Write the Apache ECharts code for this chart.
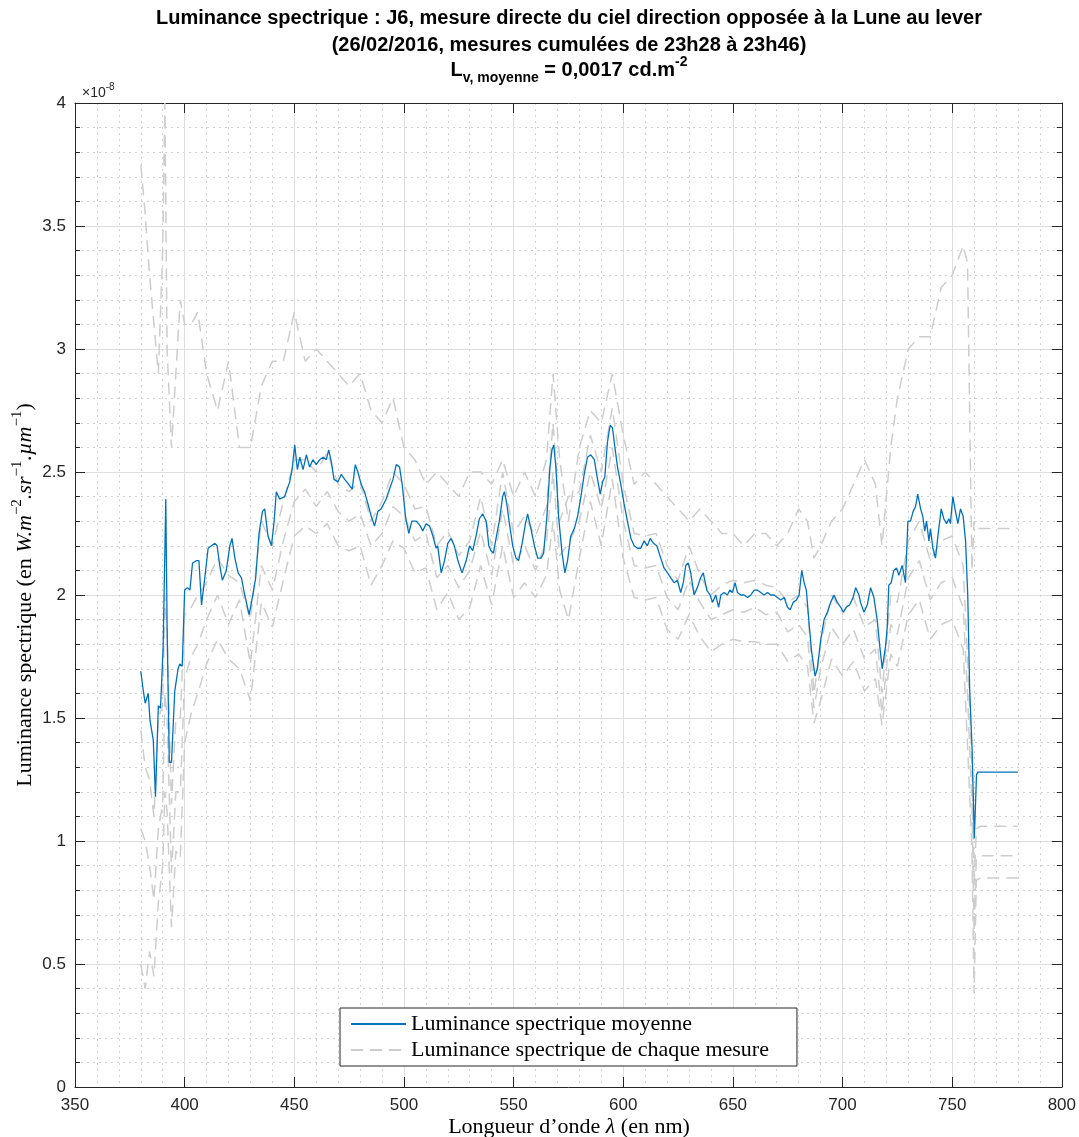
<!DOCTYPE html>
<html><head><meta charset="utf-8">
<script src="https://cdn.jsdelivr.net/npm/echarts@6/dist/echarts.min.js"></script>
<style>html,body{margin:0;padding:0;background:#fff}#c{width:1079px;height:1137px}</style>
</head><body><div id="c"></div>
<script>
// Mean spectrum [wavelength nm, luminance x1e-8]
const meanSpectrum = [[380,1.69],[381,1.62],[382,1.56],[383.4,1.60],[384.2,1.49],[385.7,1.41],[386.7,1.18],[388,1.55],[389,1.54],[390.2,1.79],[391.4,2.39],[392,1.87],[393,1.32],[394,1.32],[395.5,1.61],[397,1.70],[397.8,1.72],[398.9,1.71],[400,2.02],[401.2,2.03],[402.4,2.02],[403.6,2.13],[405.4,2.14],[406.5,2.14],[407.7,1.96],[409.2,2.07],[410.7,2.19],[412.2,2.20],[413.8,2.21],[414.8,2.20],[416,2.12],[417.2,2.06],[419,2.10],[420.6,2.20],[421.6,2.23],[422.9,2.15],[424.4,2.09],[425.9,2.07],[427.4,2.00],[429.4,1.92],[430.9,1.99],[432.4,2.07],[433.9,2.25],[435.5,2.34],[436.5,2.35],[438,2.24],[439.6,2.20],[440.8,2.30],[441.8,2.42],[443.3,2.39],[445.6,2.40],[447.9,2.46],[449,2.51],[450.2,2.61],[451.4,2.51],[452.5,2.56],[454,2.51],[455.5,2.57],[457,2.52],[458.5,2.55],[460,2.53],[461.6,2.55],[463.1,2.56],[464.6,2.55],[465.7,2.59],[466.9,2.54],[468.1,2.47],[469.9,2.46],[471.4,2.49],[473,2.47],[474.8,2.45],[476.4,2.43],[477.8,2.53],[479,2.50],[480.5,2.45],[482,2.42],[483.6,2.37],[485.1,2.32],[486.6,2.28],[488.1,2.34],[489.6,2.35],[491.9,2.39],[493.4,2.43],[495,2.47],[496.5,2.53],[498,2.52],[499.2,2.45],[500.7,2.32],[502.2,2.25],[503.6,2.30],[505.6,2.30],[507.5,2.28],[508.6,2.26],[510.1,2.29],[511.7,2.28],[513.2,2.24],[514.7,2.19],[515.4,2.20],[517,2.09],[518.5,2.14],[520,2.21],[521.5,2.23],[523,2.20],[524.6,2.14],[526.5,2.09],[528.4,2.14],[529.9,2.20],[531.4,2.18],[532.9,2.24],[534.4,2.31],[535.9,2.33],[537.5,2.30],[538.7,2.20],[539.7,2.18],[540.8,2.17],[542,2.23],[543.5,2.30],[545,2.40],[545.8,2.42],[546.9,2.37],[548.1,2.29],[549.6,2.20],[551.1,2.15],[552.3,2.14],[553.9,2.21],[555.4,2.29],[556.4,2.33],[557.9,2.27],[559.5,2.20],[561,2.15],[562.5,2.15],[563.7,2.17],[565.2,2.32],[566.6,2.52],[567.5,2.59],[568.3,2.61],[569.3,2.52],[570.5,2.32],[572.1,2.17],[573.4,2.09],[574.6,2.14],[576.1,2.24],[577.7,2.27],[579.2,2.32],[580.7,2.40],[582.2,2.49],[583.7,2.56],[585.2,2.57],[586.8,2.55],[588.3,2.47],[589.5,2.41],[590.6,2.46],[591.6,2.48],[592.8,2.62],[594,2.69],[595.1,2.68],[596.2,2.60],[597.4,2.52],[598.9,2.45],[600.4,2.37],[601.9,2.30],[603.5,2.23],[605,2.20],[606.5,2.19],[608,2.19],[609.5,2.22],[611,2.20],[612.3,2.23],[613.8,2.21],[615.3,2.20],[617.1,2.15],[618.6,2.11],[620.2,2.09],[621.7,2.07],[623.2,2.05],[624.7,2.06],[626.2,2.01],[627.4,2.05],[628.5,2.12],[629.6,2.13],[630.8,2.09],[632.3,2.00],[633.8,2.03],[635.3,2.07],[636.5,2.09],[638.1,2.02],[639.6,2.00],[640.7,1.97],[642.2,2.00],[643.5,1.95],[644.5,2.00],[646,2.01],[647.5,2.00],[648.6,2.02],[649.8,2.01],[651,2.05],[652.1,2.01],[653.6,2.00],[655.1,2.00],[656.7,1.99],[658.2,2.00],[659.7,2.02],[661.2,2.02],[662.7,2.01],[664.2,2.00],[665.8,2.01],[667.3,2.00],[668.8,2.00],[670.3,1.99],[671.8,1.98],[673.4,1.99],[674.9,1.95],[676.1,1.94],[677.5,1.97],[679,1.98],[680.2,2.00],[681.4,2.10],[682.5,2.05],[683.5,2.02],[684.7,1.89],[685.9,1.77],[687.5,1.67],[688.5,1.70],[690.1,1.82],[691.6,1.90],[693.1,1.93],[694.6,1.97],[696.1,2.00],[697.6,1.97],[699.2,1.95],[700.4,1.93],[701.7,1.95],[703.3,1.96],[704.8,1.99],[706,2.03],[707.5,2.00],[708.2,1.97],[709.8,1.93],[711.3,1.96],[712.8,2.03],[714.3,1.99],[715.8,1.90],[717,1.79],[718.1,1.70],[719.6,1.79],[720.4,1.87],[721.1,2.04],[722.2,2.05],[723.4,2.10],[724.6,2.11],[725.7,2.08],[727.2,2.12],[728.7,2.05],[729.8,2.30],[731,2.30],[732.2,2.34],[733.3,2.36],[734.3,2.41],[735.6,2.35],[736.6,2.32],[737.5,2.26],[738.3,2.30],[739.4,2.22],[740.1,2.27],[741.2,2.19],[742.4,2.15],[743.5,2.24],[745,2.35],[746.2,2.31],[747.4,2.29],[748.5,2.31],[749.2,2.29],[750.3,2.40],[751.5,2.34],[752.6,2.29],[753.8,2.35],[755,2.32],[756.1,2.22],[757.1,2.00],[758,1.61],[759.1,1.37],[760.1,1.01],[761.1,1.27],[761.7,1.28],[780,1.28]];

// Individual measurements (shared wavelengths)
const measureWl = [380,382,384,386,388,390,391,392,394,396,
  398,400,403,406,410,415,420,425,430,435,
  440,445,450,455,460,465,470,475,480,485,
  490,495,500,505,510,515,520,525,530,535,
  540,545,550,555,560,565,568,571,575,580,
  585,590,595,600,605,610,615,620,625,630,
  635,640,645,650,655,660,665,670,675,680,
  684,687,690,695,700,705,710,715,718,722,
  725,730,735,740,745,750,755,757,759,760,
  761,763,770,780];
const measureA = [3.75,3.55,3.3,3.1,2.9,3.4,4.0,3.0,2.6,2.9,
  3.2,3.1,3.1,3.15,2.9,2.75,2.95,2.6,2.6,2.85,
  2.95,2.95,3.15,2.95,3.0,2.95,2.9,2.85,2.9,2.75,
  2.7,2.8,2.6,2.55,2.45,2.5,2.45,2.4,2.5,2.5,
  2.45,2.55,2.4,2.5,2.4,2.55,2.9,2.55,2.3,2.6,
  2.75,2.7,2.9,2.65,2.45,2.5,2.45,2.4,2.35,2.3,
  2.35,2.3,2.25,2.25,2.2,2.25,2.25,2.2,2.25,2.35,
  2.3,2.15,2.2,2.3,2.35,2.45,2.55,2.45,2.2,2.6,
  2.8,3.0,3.05,3.05,3.25,3.3,3.42,3.35,2.1,2.3,
  2.27,2.27,2.27,2.27];
const measureB = [1.45,1.3,1.25,1.1,1.5,1.55,2.0,1.85,1.15,1.5,
  1.5,1.92,1.95,2.0,2.05,2.15,2.08,2.05,1.9,2.3,
  2.2,2.38,2.55,2.55,2.5,2.58,2.45,2.42,2.46,2.3,
  2.38,2.5,2.45,2.35,2.36,2.2,2.26,2.16,2.22,2.4,
  2.2,2.5,2.25,2.32,2.24,2.36,2.7,2.3,2.4,2.42,
  2.65,2.5,2.76,2.45,2.25,2.24,2.25,2.12,2.06,2.2,
  2.08,2.0,2.04,2.06,2.05,2.06,2.04,2.03,1.97,2.0,
  1.95,1.6,1.8,2.0,1.93,1.99,1.87,1.9,1.6,2.0,
  1.97,2.22,2.3,2.14,2.22,2.24,2.12,1.75,1.3,0.82,
  1.05,1.06,1.06,1.06];
const measureC = [1.05,1.0,0.9,0.76,1.05,1.15,1.6,1.5,0.87,1.2,
  1.2,1.66,1.75,1.8,1.9,2.0,1.88,1.98,1.72,2.12,
  2.02,2.22,2.38,2.43,2.36,2.42,2.34,2.3,2.33,2.2,
  2.25,2.36,2.32,2.22,2.25,2.07,2.12,2.03,2.1,2.26,
  2.08,2.35,2.12,2.2,2.1,2.22,2.5,2.16,2.21,2.3,
  2.5,2.35,2.6,2.3,2.12,2.11,2.12,1.99,1.94,2.06,
  1.97,1.9,1.92,1.94,1.93,1.95,1.92,1.93,1.85,1.88,
  1.83,1.54,1.7,1.87,1.8,1.86,1.74,1.78,1.52,1.88,
  1.84,2.07,2.14,1.98,2.05,2.07,1.95,1.6,1.15,0.63,
  0.93,0.94,0.94,0.94];
const measureD = [0.5,0.4,0.55,0.45,0.75,0.9,1.2,1.12,0.65,0.96,
  0.93,1.4,1.52,1.6,1.72,1.82,1.74,1.7,1.57,1.97,
  1.87,2.06,2.24,2.28,2.25,2.29,2.2,2.18,2.2,2.04,
  2.12,2.22,2.19,2.09,2.11,1.94,2.01,1.9,1.95,2.12,
  1.96,2.2,1.99,2.05,1.99,2.08,2.3,2.02,1.9,2.15,
  2.38,2.2,2.47,2.15,1.99,1.98,1.99,1.86,1.82,1.92,
  1.83,1.77,1.8,1.82,1.81,1.81,1.8,1.8,1.73,1.76,
  1.71,1.48,1.57,1.74,1.67,1.73,1.61,1.66,1.47,1.76,
  1.71,1.92,1.98,1.82,1.88,1.9,1.78,1.39,0.97,0.38,
  0.84,0.85,0.85,0.85];

const seriesNames = ['Luminance spectrique moyenne', 'Luminance spectrique de chaque mesure'];
const titleLines = ['Luminance spectrique : J6, mesure directe du ciel direction opposée à la Lune au lever',
  '(26/02/2016, mesures cumulées de 23h28 à 23h46)'];

const SANS = '"Liberation Sans", Arial, sans-serif';
const SERIF = '"Liberation Serif", "Times New Roman", serif';
const AX = '#262626';

const mctx = document.createElement('canvas').getContext('2d');
function textGroup(parts, cx, cy, rotation, align) {
  let total = 0;
  const ws = parts.map(p => { mctx.font = p.font; const w = mctx.measureText(p.t).width; total += w; return w; });
  let x = align === 'left' ? 0 : -total / 2;
  const children = parts.map((p, i) => {
    const el = { type: 'text', x: x, y: p.dy || 0, silent: true,
      style: { text: p.t, font: p.font, fill: p.fill || '#000', textAlign: 'left', textVerticalAlign: 'middle', verticalAlign: 'middle' } };
    x += ws[i];
    return el;
  });
  return { type: 'group', x: cx, y: cy, rotation: rotation || 0, children: children };
}

const chart = echarts.init(document.getElementById('c'), null, { renderer: 'canvas' });
const grayStyle = { color: '#cdcdcd', width: 1.5, type: [12, 7] };
const grayData = [measureA, measureB, measureC, measureD].map(arr => measureWl.map((w, i) => [w, arr[i]]));

const xCommon = { type: 'value', min: 350, max: 800, interval: 50 };
const yCommon = { type: 'value', min: 0, max: 4, interval: 0.5 };

const bT = 'bold 20px ' + SANS, bS = 'bold 14px ' + SANS;
const ser = '22px ' + SERIF, serI = 'italic 22px ' + SERIF, serS = '15px ' + SERIF;

chart.setOption({
  animation: false,
  backgroundColor: '#fff',
  grid: { left: 75, right: 16, top: 103, bottom: 50, containLabel: false },
  legend: {
    data: seriesNames, orient: 'vertical', left: 340, top: 1008,
    backgroundColor: '#fff', borderColor: AX, borderWidth: 1, borderRadius: 0,
    padding: [5, 28, 5, 10], itemWidth: 55, itemHeight: 14, itemGap: 4,
    itemStyle: { opacity: 0, borderWidth: 0 },
    textStyle: { fontFamily: SERIF, fontSize: 22, color: '#000', lineHeight: 22 }
  },
  xAxis: [
    Object.assign({}, xCommon, {
      position: 'bottom',
      axisLine: { show: true, onZero: false, lineStyle: { color: AX, width: 1 } },
      axisTick: { show: true, inside: true, length: 10, lineStyle: { color: AX } },
      minorTick: { show: false, splitNumber: 5 },
      axisLabel: { fontFamily: SANS, fontSize: 17, color: AX, margin: 10 },
      splitLine: { show: true, lineStyle: { color: '#dedede', width: 1 } },
      minorSplitLine: { show: true, lineStyle: { color: '#d2d2d2', width: 1, type: [2, 4] } }
    }),
    Object.assign({}, xCommon, {
      position: 'top',
      axisLine: { show: true, onZero: false, lineStyle: { color: AX, width: 1 } },
      axisTick: { show: true, inside: true, length: 10, lineStyle: { color: AX } },
      axisLabel: { show: false }, splitLine: { show: false }
    })
  ],
  yAxis: [
    Object.assign({}, yCommon, {
      position: 'left',
      axisLine: { show: true, onZero: false, lineStyle: { color: AX, width: 1 } },
      axisTick: { show: true, inside: true, length: 10, lineStyle: { color: AX } },
      minorTick: { show: true, splitNumber: 5, length: 5, lineStyle: { color: AX } },
      axisLabel: { fontFamily: SANS, fontSize: 17, color: AX, margin: 9 },
      splitLine: { show: true, lineStyle: { color: '#dedede', width: 1 } },
      minorSplitLine: { show: true, lineStyle: { color: '#d2d2d2', width: 1, type: [2, 4] } }
    }),
    Object.assign({}, yCommon, {
      position: 'right',
      axisLine: { show: true, onZero: false, lineStyle: { color: AX, width: 1 } },
      axisTick: { show: true, inside: true, length: 10, lineStyle: { color: AX } },
      minorTick: { show: true, splitNumber: 5, length: 5, lineStyle: { color: AX } },
      axisLabel: { show: false }, splitLine: { show: false }
    })
  ],
  series: grayData.map(d => ({
    name: seriesNames[1], type: 'line', data: d, symbol: 'none', z: 2,
    lineStyle: grayStyle, itemStyle: { color: '#cdcdcd' }
  })).concat([{
    name: seriesNames[0], type: 'line', data: meanSpectrum, symbol: 'none', z: 3,
    lineStyle: { color: '#0072BD', width: 1.3 }, itemStyle: { color: '#0072BD' }
  }]),
  graphic: [
    textGroup([{ t: titleLines[0], font: bT }], 569, 18),
    textGroup([{ t: titleLines[1], font: bT }], 569, 45),
    textGroup([{ t: 'L', font: bT }, { t: 'v, moyenne', font: bS, dy: 8 }, { t: ' = 0,0017 cd.m', font: bT }, { t: '-2', font: bS, dy: -8 }], 569, 70),
    textGroup([{ t: '×10', font: '14px ' + SANS, fill: AX }, { t: '-8', font: '10px ' + SANS, dy: -6, fill: AX }], 82, 93, 0, 'left'),
    textGroup([{ t: 'Longueur d\u2019onde ', font: ser }, { t: 'λ', font: serI }, { t: ' (en nm)', font: ser }], 569, 1127),
    textGroup([{ t: 'Luminance spectrique (en ', font: ser }, { t: 'W.m', font: serI }, { t: '\u22122', font: serS, dy: -8 },
      { t: '.sr', font: serI }, { t: '\u22121', font: serS, dy: -8 }, { t: '.\u00B5m', font: serI }, { t: '\u22121', font: serS, dy: -8 }, { t: ')', font: ser }], 25, 595, Math.PI / 2)
  ]
});
</script>
</body></html>
